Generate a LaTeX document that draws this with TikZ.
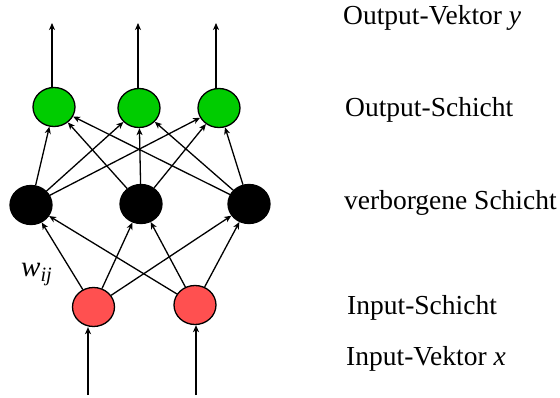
\documentclass[tikz,border=0pt]{standalone}
\usepackage{fontspec}
\setmainfont{Liberation Serif}
\newfontfamily\tnr{Liberation Serif}
\usetikzlibrary{shapes.geometric,arrows.meta}
\definecolor{outgreen}{RGB}{0,204,0}
\definecolor{inred}{RGB}{255,80,80}
\begin{document}
\begin{tikzpicture}[x=1pt,y=-1pt,
  neuron/.style={ellipse,draw=black,line width=1.3pt,minimum width=42pt,minimum height=39pt,inner sep=0pt},
  conn/.style={line width=1.3pt,-{Stealth[length=7pt,width=6pt,inset=2pt]}},
  lbl/.style={inner sep=0pt,anchor=base west,font=\tnr\fontsize{27.5}{33}\selectfont}]
\useasboundingbox (0,0) rectangle (560,398);
% output layer
\node[neuron,fill=outgreen] (g1) at (54,107) {};
\node[neuron,fill=outgreen] (g2) at (139,108) {};
\node[neuron,fill=outgreen] (g3) at (219,108) {};
% hidden layer
\node[neuron,fill=black] (h1) at (31,205) {};
\node[neuron,fill=black] (h2) at (141,204) {};
\node[neuron,fill=black] (h3) at (249,204) {};
% input layer
\node[neuron,fill=inred] (r1) at (93.5,307) {};
\node[neuron,fill=inred] (r2) at (195,305) {};
% free ends
\coordinate (y1) at (52,23);
\coordinate (y2) at (138,23);
\coordinate (y3) at (216,23);
\coordinate (x1) at (88,395);
\coordinate (x2) at (196,395);
% output arrows
\draw[conn] (y1 |- g1.north) -- (y1);
\draw[conn] (y2 |- g2.north) -- (y2);
\draw[conn] (y3 |- g3.north) -- (y3);
% hidden -> output
\foreach \h in {h1,h2,h3}{
  \foreach \g in {g1,g2,g3}{
    \draw[conn] (\h) -- (\g);
  }
}
% input -> hidden
\foreach \r in {r1,r2}{
  \foreach \h in {h1,h2,h3}{
    \draw[conn] (\r) -- (\h);
  }
}
% input arrows
\draw[conn] (x1) -- (x1 |- r1.south);
\draw[conn] (x2) -- (x2 |- r2.south);
% weight label
\node[inner sep=0pt,anchor=base west,font=\tnr\fontsize{29}{33}\selectfont] (w) at (21,277) {\textit{w}\textsubscript{\textit{ij}}};
% layer labels
\node[lbl] (l1) at (343,25) {Output-Vektor \textit{y}};
\node[lbl] (l2) at (345,117) {Output-Schicht};
\node[lbl] (l3) at (344,210) {verborgene Schicht};
\node[lbl] (l4) at (347,315) {Input-Schicht};
\node[lbl] (l5) at (346,366) {Input-Vektor \textit{x}};
\end{tikzpicture}
\end{document}
